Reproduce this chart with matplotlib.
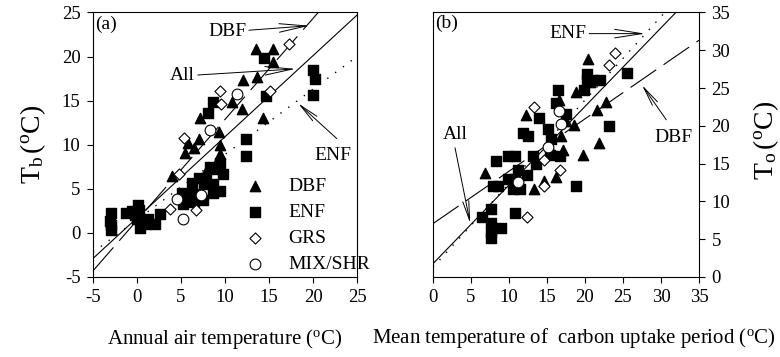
import matplotlib
matplotlib.use('Agg')
import matplotlib.pyplot as plt
import numpy as np

plt.rcParams['font.family'] = 'Liberation Serif'
plt.rcParams['mathtext.fontset'] = 'custom'
plt.rcParams['mathtext.rm'] = 'Liberation Serif'
plt.rcParams['mathtext.it'] = 'Liberation Serif:italic'
plt.rcParams['axes.unicode_minus'] = False

# ---- panel (a): annual air temperature vs Tb ----
a_dbf_x = [13.5, 15.4, 15.4, 13.6, 12.0, 10.8, 11.9, 14.3, 7.2, 9.3, 7.1, 5.8, 6.5, 5.5, 9.4, 9.3, 9.4, 8.1, 9.0, 4.0]
a_dbf_y = [20.9, 20.9, 19.4, 17.7, 17.3, 14.9, 14.1, 13.0, 13.0, 11.5, 10.6, 10.2, 9.6, 9.1, 10.0, 8.6, 8.9, 7.5, 7.7, 6.4]
a_enf_x = [14.4, 20.0, 20.2, 20.0, 14.7, 8.6, 8.1, 12.4, 12.4, 9.8, 9.4, 8.3, 8.6,
           5.1, 5.2, 6.3, 6.4, 6.5, 7.5, 7.1, 7.8, 7.6, 8.6, 8.6, 9.4,
           -3.0, -3.1, -3.0, -2.9, -1.3, -0.6, -0.2, 0.1, 0.2, 0.0, 0.3, 0.6, 1.0, 1.3, 2.1, 2.6]
a_enf_y = [19.8, 18.5, 17.5, 15.6, 15.5, 14.9, 13.6, 10.7, 8.7, 6.7, 7.9, 7.5, 7.3,
           4.5, 3.3, 5.7, 4.4, 3.5, 3.7, 6.2, 6.2, 5.5, 5.6, 4.5, 4.7,
           2.3, 1.4, 0.9, 0.3, 2.3, 2.5, 2.0, 3.2, 2.6, 1.6, 0.6, 1.2, 1.0, 1.6, 1.0, 2.1]
a_grs_x = [17.3, 15.1, 9.4, 9.6, 5.3, 4.8, 3.7, 6.7]
a_grs_y = [21.4, 16.1, 16.1, 14.6, 10.8, 6.7, 2.7, 2.6]
a_mix_x = [11.4, 8.3, 4.5, 5.2, 7.3]
a_mix_y = [15.8, 11.7, 3.8, 1.6, 4.3]
# regression lines: slope, intercept
a_fit_all = (0.92, 1.7)
a_fit_dbf = (1.145, 1.42)
a_fit_enf = (0.74, 1.5)

# ---- panel (b): mean temperature of carbon uptake period vs To ----
b_dbf_x = [20.4, 18.8, 20.7, 16.6, 12.2, 17.5, 18.6, 16.8, 15.5, 17.1, 19.8, 21.8, 21.6, 22.8, 6.8, 13.3, 14.6, 16.2]
b_dbf_y = [28.8, 24.5, 25.8, 23.4, 21.4, 20.7, 20.1, 18.7, 16.8, 16.8, 16.1, 17.7, 22.1, 23.2, 13.7, 11.7, 12.7, 13.2]
b_enf_x = [16.4, 16.2, 17.5, 14.0, 15.2, 11.9, 12.5, 15.5, 8.3, 9.9, 10.8, 13.2, 16.7, 15.4, 13.5, 11.2,
           12.4, 9.9, 10.8, 7.9, 8.6, 10.5, 11.4, 18.8, 6.4, 7.6, 10.8, 7.7, 7.7, 7.7, 8.9,
           20.3, 20.3, 21.1, 22.0, 19.9, 25.5, 23.2]
b_enf_y = [24.7, 23.0, 21.6, 21.0, 19.6, 19.1, 18.7, 18.2, 15.4, 16.0, 16.0, 16.0, 16.0, 16.1, 15.0, 14.1,
           13.5, 13.0, 13.0, 12.0, 12.0, 11.6, 11.6, 12.0, 8.0, 9.0, 8.5, 7.1, 6.0, 5.1, 6.5,
           26.9, 26.1, 26.1, 26.1, 24.7, 27.0, 20.0]
b_grs_x = [23.9, 23.1, 13.3, 16.7, 14.6, 12.4, 14.6]
b_grs_y = [29.7, 28.1, 22.5, 14.1, 12.0, 7.9, 15.5]
b_mix_x = [16.6, 16.9, 11.2, 15.2]
b_mix_y = [21.9, 20.2, 12.6, 17.2]
b_fit_all = (1.04, 1.76)
b_fit_dbf = (0.693, 7.06)
b_fit_enf = (1.105, 1.3)

fig = plt.figure(figsize=(7.8, 3.57), dpi=100)
ax1 = fig.add_axes([0.1192, 0.2241, 0.3385, 0.741])
ax2 = fig.add_axes([0.5551, 0.2241, 0.341, 0.741])


def draw_points(ax, dx, dy, ex, ey, gx, gy, mx, my):
    ax.scatter(dx, dy, marker='^', s=55, c='black', label='DBF', zorder=3)
    ax.scatter(ex, ey, marker='s', s=48, c='black', label='ENF', zorder=3)
    ax.scatter(gx, gy, marker='D', s=32, facecolors='white', edgecolors='black',
               linewidths=0.8, label='GRS', zorder=3)
    ax.scatter(mx, my, marker='o', s=60, facecolors='white', edgecolors='black',
               linewidths=0.8, label='MIX/SHR', zorder=3)


def draw_fits(ax, xr, fa, fd, fe):
    xs = np.array(xr)
    ax.plot(xs, fa[0] * xs + fa[1], color='black', lw=0.8, zorder=2)
    ax.plot(xs, fd[0] * xs + fd[1], color='black', lw=0.8, dashes=(28, 8), zorder=2)
    ax.plot(xs, fe[0] * xs + fe[1], color='black', lw=1.0, dashes=(1, 6), zorder=2)


arrow = dict(arrowstyle='->,head_length=1.4,head_width=0.22', color='black', lw=0.7,
             shrinkA=0, shrinkB=0)

# panel (a)
draw_points(ax1, a_dbf_x, a_dbf_y, a_enf_x, a_enf_y, a_grs_x, a_grs_y, a_mix_x, a_mix_y)
draw_fits(ax1, [-5, 25], a_fit_all, a_fit_dbf, a_fit_enf)
ax1.set_xlim(-5, 25)
ax1.set_ylim(-5, 25)
ax1.set_xticks([-5, 0, 5, 10, 15, 20, 25])
ax1.set_yticks([-5, 0, 5, 10, 15, 20, 25])
ax1.text(-4.8, 23.6, '(a)', fontsize=14, va='center', ha='left')
ax1.annotate('DBF', xy=(19.6, 23.5), xytext=(12.4, 22.8), fontsize=14,
             ha='right', va='center', arrowprops=arrow)
ax1.annotate('All', xy=(18.0, 18.6), xytext=(6.6, 17.8), fontsize=14,
             ha='right', va='center', arrowprops=arrow)
ax1.annotate('', xy=(18.3, 14.7), xytext=(22.7, 10.7), arrowprops=arrow)
ax1.text(22.3, 8.8, 'ENF', fontsize=14, ha='center', va='center')
ax1.legend(loc='lower left', bbox_to_anchor=(0.49, -0.035), frameon=False, fontsize=14,
           handletextpad=0.7, labelspacing=0.42, borderpad=0.2, scatterpoints=1)
ax1.set_ylabel(r'$\mathrm{T_b\,(^oC)}$', fontsize=20, labelpad=10)
ax1.set_xlabel(r'Annual air temperature ($^\mathrm{o}$C)', fontsize=15, labelpad=15)

# panel (b)
draw_points(ax2, b_dbf_x, b_dbf_y, b_enf_x, b_enf_y, b_grs_x, b_grs_y, b_mix_x, b_mix_y)
draw_fits(ax2, [0, 35], b_fit_all, b_fit_dbf, b_fit_enf)
ax2.set_xlim(0, 35)
ax2.set_ylim(0, 35)
ax2.set_xticks([0, 5, 10, 15, 20, 25, 30, 35])
ax2.set_yticks([0, 5, 10, 15, 20, 25, 30, 35])
ax2.yaxis.tick_right()
ax2.text(0.3, 33.5, '(b)', fontsize=14, va='center', ha='left')
ax2.annotate('ENF', xy=(27.9, 32.2), xytext=(20.2, 32.2), fontsize=14,
             ha='right', va='center', arrowprops=arrow)
ax2.annotate('', xy=(27.5, 25.4), xytext=(30.7, 20.8), arrowprops=arrow)
ax2.text(31.6, 18.5, 'DBF', fontsize=14, ha='center', va='center')
ax2.annotate('', xy=(4.9, 7.1), xytext=(2.9, 17.1), arrowprops=arrow)
ax2.text(2.9, 18.8, 'All', fontsize=14, ha='center', va='center')

for ax in (ax1, ax2):
    ax.tick_params(direction='out', length=4, width=0.8, labelsize=13.5, pad=5)
    for sp in ax.spines.values():
        sp.set_linewidth(0.8)

ax2.tick_params(axis='y', left=False, right=True)

fig.text(372 / 780, 1 - 338 / 357, r'Mean temperature of  carbon uptake period ($^\mathrm{o}$C)',
         fontsize=15, ha='left', va='center')
fig.text(766 / 780, 1 - 140 / 357, r'$\mathrm{T_o\,(^oC)}$', fontsize=20, rotation=90,
         ha='center', va='center')

fig.savefig('out.png', dpi=100)
